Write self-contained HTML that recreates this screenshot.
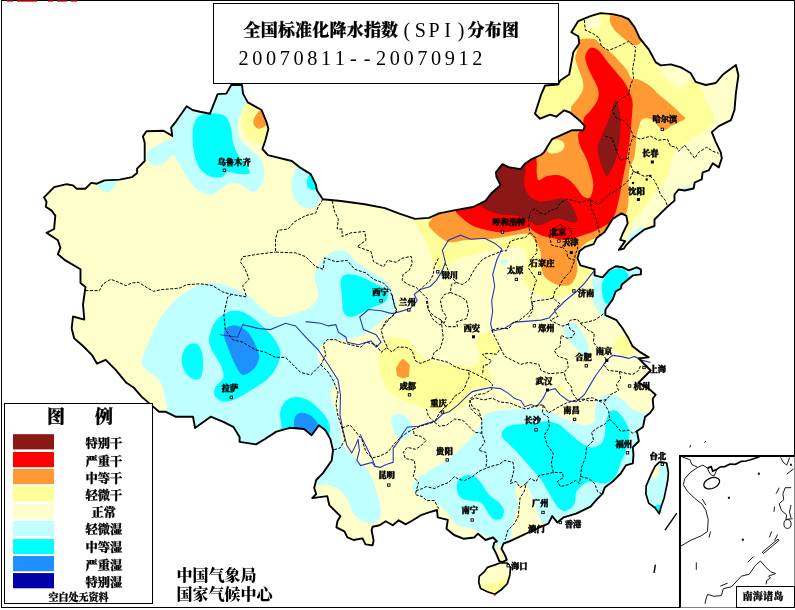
<!DOCTYPE html>
<html lang="zh"><head><meta charset="utf-8"><title>全国标准化降水指数(SPI)分布图</title>
<style>
html,body{margin:0;padding:0;background:#fff;}
body{width:795px;height:610px;overflow:hidden;position:relative;font-family:"Liberation Serif","Noto Serif CJK SC",serif;}
svg{position:absolute;left:0;top:0;}
.t{position:absolute;white-space:nowrap;color:#000;line-height:1;opacity:.999;will-change:opacity;}
.b{font-weight:900;-webkit-text-stroke:0.25px #000;}
</style></head><body>
<svg width="795" height="610" viewBox="0 0 795 610">
<rect width="795" height="610" fill="#fff"/>

<defs><clipPath id="cn"><path d="M44.0 197.3 L54.1 187.2 L66.7 184.2 L73.0 185.4 L76.7 188.7 L85.5 188.7 L91.1 182.9 L96.9 183.7 L104.4 180.4 L119.5 179.6 L132.1 177.1 L137.1 172.9 L137.1 168.6 L144.7 161.0 L144.7 142.7 L142.9 136.4 L146.4 131.3 L163.5 130.8 L172.3 135.9 L171.1 127.6 L176.1 121.3 L186.7 106.2 L192.5 110.0 L200.0 111.7 L210.0 113.7 L217.6 94.1 L226.4 93.6 L231.2 85.0 L242.0 85.0 L243.0 93.6 L247.8 102.4 L261.6 110.0 L266.7 122.5 L268.4 128.8 L265.4 140.2 L262.4 149.0 L267.9 155.2 L291.8 161.0 L299.4 167.1 L310.7 174.1 L315.7 184.2 L317.0 190.5 L322.8 199.3 L340.9 201.0 L364.8 204.3 L384.9 208.1 L400.0 213.9 L415.0 218.9 L429.0 217.9 L439.0 213.4 L454.0 210.4 L473.0 207.0 L485.5 200.8 L491.4 193.3 L500.5 185.2 L496.5 177.2 L496.0 172.1 L502.5 164.1 L508.6 167.1 L520.6 169.1 L524.6 164.1 L531.7 159.1 L540.8 155.0 L544.0 152.3 L547.0 147.3 L552.0 139.2 L561.0 135.2 L572.2 130.2 L583.3 130.2 L584.7 126.2 L580.2 121.0 L570.0 112.5 L564.2 110.3 L556.2 116.7 L550.1 114.7 L540.1 118.7 L535.0 113.7 L541.1 94.6 L545.1 85.5 L558.2 84.5 L560.2 80.5 L569.2 74.5 L573.3 52.3 L579.3 43.3 L578.3 36.2 L571.3 32.2 L578.3 21.1 L590.4 16.1 L600.4 13.1 L612.5 14.1 L621.6 16.1 L628.6 19.1 L634.6 27.2 L639.7 38.2 L648.7 49.3 L655.8 62.4 L660.8 65.4 L670.9 64.4 L680.9 67.4 L690.6 73.0 L695.6 81.8 L705.7 85.0 L715.8 83.0 L723.3 74.2 L735.9 64.9 L738.4 75.5 L735.9 93.1 L734.5 110.0 L730.9 120.1 L718.8 126.1 L711.8 132.1 L715.8 142.2 L720.8 152.3 L721.8 158.3 L718.8 167.4 L712.8 163.3 L708.7 170.4 L702.7 172.4 L701.7 179.4 L694.7 182.5 L693.6 188.5 L684.6 190.5 L678.6 189.5 L674.5 194.5 L674.5 200.6 L667.5 206.6 L660.4 213.6 L654.5 219.5 L654.5 226.0 L644.1 229.7 L632.7 238.5 L626.4 244.8 L623.9 248.6 L618.9 249.9 L625.2 241.1 L620.2 239.8 L622.7 233.5 L627.7 223.4 L626.4 215.9 L621.4 213.4 L612.6 218.9 L604.6 232.1 L596.6 238.1 L593.6 244.2 L584.5 247.2 L579.5 251.2 L577.5 258.3 L580.5 265.3 L588.5 267.7 L594.6 269.3 L594.6 275.4 L602.6 277.4 L608.7 270.3 L615.7 266.3 L622.8 267.3 L628.8 270.3 L636.8 267.3 L640.9 269.3 L640.9 274.4 L632.8 275.4 L626.8 280.4 L621.8 284.4 L620.8 288.5 L615.7 291.5 L612.7 299.5 L606.7 307.6 L605.4 310.1 L605.4 315.2 L616.5 320.2 L622.5 328.2 L628.6 338.3 L632.6 346.3 L640.6 352.4 L648.7 357.4 L638.6 358.4 L644.7 364.5 L650.7 370.5 L644.7 376.5 L638.6 382.6 L648.7 388.6 L655.7 394.7 L652.7 398.7 L653.5 408.0 L650.0 413.0 L645.0 417.0 L643.0 427.0 L636.9 431.2 L638.9 441.3 L632.8 447.3 L633.5 455.0 L632.8 463.4 L625.8 465.4 L620.7 473.5 L612.7 481.5 L604.7 487.6 L602.6 493.6 L596.6 499.6 L590.6 506.7 L576.1 513.6 L563.5 517.4 L557.2 522.4 L552.2 516.1 L548.4 523.7 L539.6 527.4 L528.3 532.5 L520.8 536.2 L509.4 541.3 L503.5 543.5 L501.5 548.7 L504.9 554.9 L506.8 559.9 L502.4 562.2 L499.3 561.2 L496.8 554.9 L493.0 547.4 L494.3 542.5 L496.9 541.3 L493.0 537.5 L485.5 540.0 L478.0 533.7 L474.2 537.5 L464.0 538.8 L454.0 535.0 L446.5 528.7 L447.8 519.9 L437.7 517.4 L437.0 510.0 L429.9 512.2 L420.9 515.2 L412.8 520.3 L405.8 524.3 L398.7 520.3 L392.7 525.3 L385.7 521.3 L379.6 525.3 L372.6 526.7 L371.6 530.3 L373.6 540.4 L372.6 545.4 L365.5 544.4 L362.5 538.4 L353.5 540.0 L347.4 537.4 L344.4 531.3 L336.4 527.3 L337.4 521.3 L340.4 516.2 L329.3 505.2 L327.3 496.1 L312.2 498.1 L316.2 494.0 L314.2 488.0 L316.2 480.0 L322.9 473.1 L331.7 460.5 L333.0 450.4 L330.4 439.1 L325.4 430.3 L319.0 425.3 L311.6 435.3 L304.0 429.0 L290.0 427.8 L276.4 431.6 L265.0 439.0 L256.0 444.4 L239.6 441.9 L239.6 436.9 L233.3 426.8 L223.3 421.8 L210.7 416.7 L195.0 428.0 L193.0 416.7 L175.5 416.7 L165.4 411.7 L159.0 411.7 L154.0 407.4 L141.5 396.6 L134.0 387.8 L126.4 382.8 L115.7 369.9 L105.7 359.8 L96.9 363.6 L91.8 354.8 L83.0 346.0 L74.2 338.4 L71.7 328.4 L73.0 316.5 L84.3 319.6 L83.0 304.5 L85.5 286.9 L80.5 283.1 L80.5 269.3 L65.4 260.4 L57.9 254.2 L60.4 247.9 L57.9 240.3 L46.5 232.8 L54.1 229.0 L55.3 215.6 L51.6 210.6 L45.8 206.8 L46.5 201.8Z"/><path d="M499.9 563.0 L494.9 564.9 L487.4 567.4 L483.7 572.4 L479.3 576.1 L478.7 582.3 L480.6 588.6 L487.4 591.7 L494.9 594.2 L501.2 589.8 L507.4 583.6 L509.9 574.9 L510.5 567.4 L507.4 563.0Z"/><path d="M661.8 462.1 L666.7 463.0 L668.4 472.8 L667.8 480.0 L666.7 485.9 L664.3 497.4 L661.0 507.2 L659.3 513.8 L655.2 508.0 L648.7 503.1 L645.9 494.1 L646.2 485.9 L651.1 474.4 L655.2 466.2 L659.3 462.1Z"/></clipPath></defs>
<g clip-path="url(#cn)">
<rect width="795" height="610" fill="#FFFFCC"/>
<path d="M414.2 221.0 C415.2 224.0 417.8 227.9 420.2 232.1 C422.6 236.3 426.3 241.8 428.3 246.2 C430.3 250.6 431.0 254.6 432.3 258.3 C433.6 262.0 434.7 266.4 436.4 268.4 C438.1 270.4 440.4 270.7 442.4 270.4 C444.4 270.1 446.0 268.1 448.4 266.4 C450.8 264.7 453.5 262.0 456.5 260.3 C459.5 258.6 462.8 257.5 466.5 256.3 C470.2 255.1 474.2 254.5 478.6 253.3 C483.0 252.1 488.7 250.0 492.7 249.2 C496.7 248.3 498.8 248.5 502.8 248.2 C506.8 247.9 513.1 246.8 516.8 247.2 C520.5 247.5 523.2 248.1 524.9 250.3 C526.6 252.5 527.1 256.3 526.9 260.3 C526.7 264.3 524.2 270.4 523.9 274.4 C523.6 278.4 523.8 282.0 524.9 284.5 C526.0 287.0 527.6 287.7 530.2 289.5 C532.8 291.3 536.6 294.2 540.3 295.5 C544.0 296.8 547.9 297.5 552.3 297.5 C556.6 297.5 561.7 297.2 566.4 295.5 C571.1 293.8 576.8 290.1 580.5 287.4 C584.2 284.7 586.4 282.1 588.6 279.4 C590.8 276.7 590.9 274.2 593.6 271.3 C596.3 268.4 603.9 265.6 605.0 262.0 C606.1 258.4 598.8 255.7 600.0 250.0 C601.2 244.3 608.3 230.5 612.0 228.0 C615.7 225.5 619.0 235.0 622.0 235.0 C625.0 235.0 628.6 230.1 630.3 228.0 C632.0 225.9 630.6 225.3 632.3 222.7 C634.0 220.1 637.6 215.9 640.3 212.6 C643.0 209.2 646.0 205.6 648.4 202.6 C650.8 199.6 652.4 197.2 654.4 194.5 C656.4 191.8 658.4 189.2 660.4 186.5 C662.4 183.8 664.8 181.4 666.5 178.4 C668.2 175.4 669.5 172.1 670.5 168.4 C671.5 164.7 671.1 159.7 672.5 156.3 C673.9 152.9 675.6 150.9 678.6 148.2 C681.6 145.5 686.6 142.9 690.6 140.2 C694.6 137.5 699.1 134.8 702.7 132.1 C706.3 129.4 710.2 127.2 712.0 124.0 C713.8 120.8 714.2 117.1 713.2 113.2 C712.2 109.3 707.8 105.2 705.7 100.6 C703.6 96.0 703.2 88.8 700.7 85.5 C698.2 82.2 694.0 80.1 690.6 80.5 C687.2 80.9 684.3 88.0 680.5 88.0 C676.7 88.0 671.8 83.8 668.0 80.5 C664.2 77.2 660.6 72.2 657.9 67.9 C655.2 63.7 655.0 61.3 652.0 55.0 C649.0 48.7 645.3 38.3 640.0 30.0 C634.7 21.7 631.7 8.7 620.0 5.0 C608.3 1.3 580.8 -1.2 570.0 8.0 C559.2 17.2 562.0 46.3 555.0 60.0 C548.0 73.7 533.5 80.0 528.0 90.0 C522.5 100.0 520.3 108.7 522.0 120.0 C523.7 131.3 542.5 151.3 538.0 158.0 C533.5 164.7 503.3 153.0 495.0 160.0 C486.7 167.0 497.2 192.8 488.0 200.0 C478.8 207.2 452.3 200.7 440.0 203.0 C427.7 205.3 418.3 211.0 414.0 214.0 C409.7 217.0 413.2 218.0 414.2 221.0Z" fill="#FFFF99"/>
<path d="M584.0 20.0 C585.0 18.0 589.3 15.3 592.0 15.0 C594.7 14.7 598.5 16.2 600.0 18.0 C601.5 19.8 602.0 24.2 601.0 26.0 C600.0 27.8 596.5 28.8 594.0 29.0 C591.5 29.2 587.7 28.5 586.0 27.0 C584.3 25.5 583.0 22.0 584.0 20.0Z" fill="#FFFFCC"/>
<path d="M429.3 222.1 C426.7 226.6 431.8 229.1 434.3 232.1 C436.8 235.1 441.4 238.5 444.4 240.2 C447.4 241.9 449.0 242.2 452.4 242.2 C455.8 242.2 459.8 240.7 464.5 240.2 C469.2 239.7 475.2 239.5 480.6 239.2 C486.0 238.9 491.3 238.9 496.7 238.2 C502.1 237.5 507.5 235.9 512.8 235.2 C518.0 234.5 524.5 233.1 528.2 234.1 C531.9 235.1 533.2 238.3 535.2 241.2 C537.2 244.0 539.3 246.8 540.3 251.2 C541.3 255.5 540.5 262.9 541.3 267.3 C542.1 271.7 542.8 274.5 545.3 277.4 C547.8 280.2 552.5 283.1 556.4 284.4 C560.2 285.7 565.4 286.2 568.4 285.4 C571.4 284.6 573.0 282.1 574.5 279.4 C576.0 276.7 577.2 272.8 577.5 269.3 C577.8 265.8 576.3 261.3 576.5 258.3 C576.7 255.3 576.9 253.8 578.5 251.2 C580.1 248.6 582.9 245.4 586.0 243.0 C589.1 240.6 593.7 239.0 597.0 237.0 C600.3 235.0 603.3 234.3 606.0 231.0 C608.7 227.7 610.1 219.6 613.0 217.0 C615.9 214.4 621.2 216.4 623.5 215.7 C625.8 215.0 625.6 215.2 626.5 212.7 C627.4 210.2 628.2 205.3 628.6 200.6 C629.0 195.9 628.4 189.9 628.6 184.5 C628.8 179.1 628.6 173.1 629.6 168.4 C630.6 163.7 633.4 161.8 634.6 156.4 C635.8 151.0 635.9 140.9 636.6 136.2 C637.3 131.5 637.6 131.0 638.6 128.2 C639.6 125.3 640.2 120.4 642.6 119.1 C645.0 117.8 649.3 118.2 652.7 120.1 C656.1 121.9 659.4 129.3 662.8 130.2 C666.1 131.0 669.1 127.0 672.8 125.2 C676.5 123.4 683.5 120.9 684.9 119.1 C686.2 117.2 683.2 116.5 680.9 114.1 C678.6 111.7 674.6 107.8 670.9 104.6 C667.2 101.3 662.2 97.6 658.8 94.6 C655.4 91.6 654.1 89.0 650.7 86.5 C647.4 84.0 641.9 80.8 638.7 79.5 C635.5 78.2 633.6 80.2 631.6 78.5 C629.6 76.8 628.8 72.4 626.6 69.4 C624.4 66.4 621.3 63.2 618.6 60.4 C615.9 57.5 613.2 54.6 610.5 52.3 C607.8 49.9 605.1 48.5 602.4 46.3 C599.7 44.1 597.8 40.2 594.4 39.0 C591.0 37.8 585.4 38.7 582.3 39.0 C579.2 39.3 576.8 39.3 576.0 41.0 C575.2 42.7 577.4 46.4 577.3 49.3 C577.2 52.2 575.1 55.2 575.3 58.4 C575.5 61.6 577.1 64.7 578.3 68.4 C579.5 72.1 582.0 76.8 582.7 80.5 C583.4 84.2 583.8 87.2 582.7 90.6 C581.6 93.9 578.2 97.9 576.3 100.6 C574.4 103.3 572.3 104.7 571.3 106.7 C570.3 108.7 572.2 109.7 570.3 112.7 C568.4 115.8 565.0 120.5 560.0 125.0 C555.0 129.6 546.7 134.5 540.0 140.0 C533.3 145.5 528.3 152.7 520.0 158.0 C511.7 163.3 496.7 165.3 490.0 172.0 C483.3 178.7 486.7 192.5 480.0 198.0 C473.3 203.5 458.4 201.0 450.0 205.0 C441.6 209.0 431.9 217.6 429.3 222.1Z" fill="#FF9933"/>
<path d="M610.0 18.0 C610.3 16.0 609.3 11.3 612.0 10.0 C614.7 8.7 622.0 7.3 626.0 10.0 C630.0 12.7 633.3 21.0 636.0 26.0 C638.7 31.0 642.2 36.8 642.0 40.0 C641.8 43.2 637.5 45.5 634.6 45.3 C631.7 45.1 628.0 41.5 624.6 39.0 C621.2 36.5 616.9 32.8 614.5 30.0 C612.1 27.2 610.8 24.0 610.0 22.0 C609.2 20.0 609.7 20.0 610.0 18.0Z" fill="#FF9933"/>
<path d="M547.5 148.0 C547.8 146.3 548.6 143.4 550.0 142.0 C551.4 140.6 554.0 139.7 556.0 139.5 C558.0 139.3 560.6 139.9 562.0 141.0 C563.4 142.1 564.7 144.2 564.5 146.0 C564.3 147.8 562.9 150.2 561.0 151.5 C559.1 152.8 555.2 153.4 553.0 153.5 C550.8 153.6 548.9 152.9 548.0 152.0 C547.1 151.1 547.2 149.7 547.5 148.0Z" fill="#FFFF99"/>
<path d="M454.2 209.4 C455.2 211.5 457.3 213.7 460.3 216.4 C463.3 219.1 468.3 223.3 472.3 225.5 C476.3 227.7 479.7 228.3 484.4 229.5 C489.1 230.7 495.1 232.3 500.5 232.5 C505.9 232.7 511.9 231.3 516.6 230.5 C521.3 229.7 526.1 227.6 528.7 227.5 C531.3 227.4 530.1 228.8 532.0 230.0 C533.9 231.2 536.9 233.7 540.3 235.0 C543.7 236.3 547.9 237.2 552.3 238.0 C556.6 238.8 561.7 240.3 566.4 240.0 C571.1 239.7 576.1 237.3 580.5 236.0 C584.9 234.7 588.9 233.5 592.6 232.0 C596.3 230.5 599.6 228.7 602.6 227.0 C605.6 225.3 608.2 224.4 610.4 222.0 C612.5 219.6 614.0 216.9 615.5 212.7 C617.0 208.5 618.3 202.0 619.5 196.6 C620.7 191.2 621.3 186.5 622.5 180.5 C623.7 174.5 625.3 167.1 626.5 160.4 C627.7 153.7 628.8 146.9 629.6 140.2 C630.5 133.5 631.1 126.3 631.6 120.0 C632.1 113.7 632.9 107.2 632.6 102.6 C632.3 98.0 630.9 95.9 629.6 92.6 C628.3 89.2 626.8 85.8 624.6 82.5 C622.4 79.2 619.5 76.2 616.5 72.5 C613.5 68.8 609.5 64.1 606.5 60.4 C603.5 56.7 601.1 52.4 598.4 50.3 C595.7 48.2 592.6 46.9 590.4 47.9 C588.2 48.9 585.6 53.0 585.3 56.4 C585.0 59.8 586.9 64.4 588.4 68.4 C589.9 72.4 592.7 76.8 594.4 80.5 C596.1 84.2 597.9 87.2 598.4 90.6 C598.9 93.9 598.7 97.2 597.4 100.6 C596.1 103.9 592.6 107.8 590.4 110.7 C588.2 113.6 585.2 115.1 584.0 118.0 C582.8 120.9 584.0 125.3 583.0 128.0 C582.0 130.7 578.7 131.1 578.2 134.2 C577.7 137.2 578.9 142.3 580.2 146.3 C581.6 150.3 584.6 154.4 586.3 158.4 C588.0 162.4 589.1 166.1 590.3 170.4 C591.5 174.8 593.3 180.1 593.3 184.5 C593.3 188.9 592.0 195.0 590.3 197.0 C588.6 199.0 585.5 198.0 583.3 196.6 C581.1 195.2 579.3 191.2 577.0 188.5 C574.7 185.8 572.5 182.5 569.5 180.3 C566.5 178.1 562.7 175.9 558.9 175.2 C555.1 174.5 550.2 175.4 546.8 176.2 C543.4 177.0 540.4 180.9 538.7 180.2 C537.0 179.5 537.0 175.1 536.7 172.1 C536.4 169.1 537.2 164.9 536.7 162.1 C536.2 159.2 537.1 155.7 534.0 155.0 C530.9 154.3 524.5 156.3 518.0 158.0 C511.5 159.7 500.5 158.8 495.0 165.0 C489.5 171.2 491.8 188.5 485.0 195.0 C478.2 201.5 459.1 201.6 454.0 204.0 C448.9 206.4 453.1 207.3 454.2 209.4Z" fill="#FF0000"/>
<path d="M480.4 204.3 C480.6 207.0 483.1 207.8 486.4 209.4 C489.7 211.1 496.2 213.3 500.0 214.2 C503.8 215.1 505.8 214.5 509.1 214.9 C512.4 215.3 516.2 215.4 519.6 216.4 C523.0 217.4 526.6 219.5 529.4 220.9 C532.2 222.3 533.8 224.2 536.2 224.7 C538.6 225.2 541.3 224.8 543.8 224.0 C546.3 223.2 548.8 221.1 551.3 220.2 C553.8 219.3 556.4 218.6 558.9 218.7 C561.4 218.8 563.9 220.3 566.4 220.9 C568.9 221.5 572.1 222.8 574.0 222.5 C575.9 222.2 577.5 220.9 577.7 219.4 C578.0 217.9 576.5 215.7 575.5 213.4 C574.5 211.1 573.2 208.1 571.7 205.8 C570.2 203.5 568.3 201.1 566.4 199.8 C564.5 198.6 563.2 198.2 560.4 198.3 C557.6 198.4 553.3 200.1 549.8 200.6 C546.3 201.1 542.5 201.9 539.2 201.3 C535.9 200.7 532.6 199.1 530.2 196.8 C527.8 194.5 525.9 191.0 524.9 187.7 C523.9 184.4 524.2 180.7 524.2 177.2 C524.2 173.7 527.3 169.8 524.9 166.6 C522.5 163.4 515.0 158.6 510.0 158.0 C505.0 157.4 499.2 157.2 495.0 163.0 C490.8 168.8 487.4 186.1 485.0 193.0 C482.6 199.9 480.2 201.6 480.4 204.3Z" fill="#8B1717"/>
<path d="M614.5 102.0 C613.3 104.8 611.4 112.7 609.4 118.1 C607.4 123.5 604.4 129.2 602.4 134.2 C600.4 139.2 597.7 143.6 597.4 148.3 C597.1 153.0 599.1 158.0 600.4 162.4 C601.7 166.8 604.2 172.3 605.4 174.5 C606.6 176.7 606.7 176.0 607.5 175.5 C608.3 175.0 609.1 173.9 610.4 171.4 C611.7 168.9 614.1 164.6 615.5 160.4 C616.9 156.2 617.7 151.3 618.5 146.3 C619.3 141.3 620.3 135.9 620.5 130.2 C620.7 124.5 620.2 116.8 619.5 112.0 C618.8 107.2 617.3 103.3 616.5 101.6 C615.7 99.9 615.7 99.2 614.5 102.0Z" fill="#8B1717"/>
<path d="M173.6 136.4 C171.3 139.6 155.4 145.2 151.0 149.0 C146.6 152.8 146.2 156.3 147.0 159.0 C147.8 161.7 152.8 164.9 156.0 165.3 C159.2 165.7 163.1 163.2 166.0 161.5 C168.9 159.8 170.7 153.5 173.6 155.2 C176.5 156.9 180.2 166.3 183.6 171.6 C186.9 176.8 191.0 183.5 193.7 186.7 C196.4 189.8 196.8 189.2 200.0 190.5 C203.2 191.8 208.0 195.2 212.6 194.2 C217.2 193.1 223.1 185.9 227.7 184.2 C232.3 182.5 236.1 182.9 240.3 184.2 C244.5 185.4 249.2 191.7 252.8 191.7 C256.4 191.7 259.7 187.5 261.6 184.2 C263.5 180.8 264.4 175.8 264.2 171.6 C264.0 167.4 262.7 162.8 260.4 159.0 C258.1 155.2 253.7 152.3 250.3 149.0 C247.0 145.7 242.4 142.7 240.3 138.9 C238.2 135.1 237.3 131.3 237.7 126.3 C238.1 121.3 240.8 113.4 242.8 108.7 C244.9 104.0 249.6 103.1 250.0 98.0 C250.4 92.9 249.2 81.3 245.0 78.0 C240.8 74.7 232.5 74.3 225.0 78.0 C217.5 81.7 209.2 95.0 200.0 100.0 C190.8 105.0 175.8 103.0 170.0 108.0 C164.2 113.0 164.4 125.3 165.0 130.0 C165.6 134.7 175.9 133.2 173.6 136.4Z" fill="#BFFFFF"/>
<path d="M193.0 128.0 C193.8 123.3 195.2 119.4 198.0 117.0 C200.8 114.6 205.5 113.7 210.0 113.5 C214.5 113.3 221.5 113.6 225.0 116.0 C228.5 118.4 229.7 123.7 231.0 128.0 C232.3 132.3 231.8 137.5 233.0 142.0 C234.2 146.5 235.8 151.2 238.0 155.0 C240.2 158.8 244.0 162.0 246.0 165.0 C248.0 168.0 251.0 171.5 250.0 173.0 C249.0 174.5 243.7 174.2 240.0 174.0 C236.3 173.8 231.0 171.5 228.0 172.0 C225.0 172.5 224.7 176.2 222.0 177.0 C219.3 177.8 215.3 178.0 212.0 177.0 C208.7 176.0 204.7 173.8 202.0 171.0 C199.3 168.2 197.5 164.3 196.0 160.0 C194.5 155.7 193.5 150.3 193.0 145.0 C192.5 139.7 192.2 132.7 193.0 128.0Z" fill="#00FFFF"/>
<path d="M96.9 184.0 C97.3 185.9 100.9 189.2 103.0 190.5 C105.1 191.8 107.3 192.8 109.4 191.7 C111.5 190.6 114.4 186.5 115.7 184.2 C117.0 181.9 119.5 178.9 117.0 178.0 C114.5 177.1 103.9 178.0 100.6 179.0 C97.2 180.0 96.5 182.1 96.9 184.0Z" fill="#BFFFFF"/>
<path d="M246.5 103.7 C244.1 106.8 241.9 111.7 241.5 116.3 C241.1 120.9 242.5 127.3 244.0 131.3 C245.5 135.3 247.6 138.1 250.3 140.2 C253.0 142.3 256.8 143.9 260.4 143.9 C264.0 143.9 269.4 144.8 272.0 140.0 C274.6 135.2 278.7 122.0 276.0 115.0 C273.3 108.0 260.9 99.9 256.0 98.0 C251.1 96.1 248.9 100.7 246.5 103.7Z" fill="#FFFF99"/>
<path d="M259.0 111.2 C257.0 113.2 254.8 116.5 254.0 118.8 C253.2 121.1 253.2 123.3 254.0 125.0 C254.8 126.7 256.9 128.8 259.0 128.8 C261.1 128.8 264.4 126.5 266.7 125.0 C269.0 123.5 273.1 123.0 273.0 120.0 C272.9 117.0 268.3 108.5 266.0 107.0 C263.7 105.5 261.0 109.2 259.0 111.2Z" fill="#FF9933"/>
<path d="M296.9 166.6 C294.7 168.9 293.9 172.8 293.0 176.6 C292.1 180.4 291.2 185.0 291.8 189.2 C292.4 193.4 294.6 198.7 296.9 201.8 C299.2 204.9 302.6 207.2 305.7 208.0 C308.8 208.8 313.4 208.1 315.7 206.8 C318.0 205.6 317.1 202.5 319.5 200.5 C321.9 198.5 329.6 199.2 330.0 195.0 C330.4 190.8 326.0 180.3 322.0 175.0 C318.0 169.7 310.2 164.4 306.0 163.0 C301.8 161.6 299.1 164.3 296.9 166.6Z" fill="#BFFFFF"/>
<path d="M308.7 175.4 C307.2 177.4 306.7 181.8 307.0 184.2 C307.3 186.6 309.4 188.7 310.7 189.7 C312.0 190.7 313.3 190.3 315.0 190.0 C316.7 189.7 320.8 191.0 321.0 188.0 C321.2 185.0 318.1 174.1 316.0 172.0 C313.9 169.9 310.2 173.4 308.7 175.4Z" fill="#00FFFF"/>
<path d="M200.0 284.5 C193.5 287.2 182.5 294.0 176.0 299.4 C169.5 304.8 165.2 310.7 161.0 317.0 C156.8 323.3 154.2 329.8 151.0 337.0 C147.8 344.2 142.8 354.5 142.0 360.0 C141.2 365.5 143.7 366.7 146.5 370.0 C149.3 373.3 156.1 376.2 159.0 380.0 C161.9 383.8 162.8 387.8 164.0 393.0 C165.2 398.2 168.3 404.8 166.0 411.0 C163.7 417.2 145.2 425.2 150.0 430.0 C154.8 434.8 180.0 435.8 195.0 440.0 C210.0 444.2 222.5 453.3 240.0 455.0 C257.5 456.7 286.7 452.5 300.0 450.0 C313.3 447.5 314.5 439.7 320.0 440.0 C325.5 440.3 333.7 444.8 333.0 452.0 C332.3 459.2 316.8 477.6 316.0 483.0 C315.2 488.4 323.9 483.1 328.0 484.4 C332.1 485.7 337.2 488.0 340.5 490.7 C343.8 493.4 345.5 496.6 348.0 500.8 C350.5 505.0 351.8 512.0 355.6 515.8 C359.4 519.6 366.5 523.4 370.7 523.4 C374.9 523.4 379.6 520.0 380.8 515.8 C382.1 511.6 379.9 504.9 378.2 498.2 C376.5 491.5 373.6 481.5 370.7 475.6 C367.8 469.7 365.2 468.0 360.6 463.0 C356.0 458.0 346.4 450.8 343.0 445.4 C339.6 439.9 341.8 436.2 340.5 430.3 C339.2 424.4 337.2 415.9 335.5 410.0 C333.8 404.1 330.3 399.7 330.4 395.0 C330.4 390.3 336.1 386.2 335.8 382.0 C335.5 377.8 331.2 373.6 328.3 369.9 C325.4 366.2 319.4 363.6 318.2 359.8 C316.9 356.0 318.7 350.6 320.8 347.2 C322.9 343.8 327.5 340.9 330.8 339.7 C334.1 338.4 336.7 340.1 340.9 339.7 C345.1 339.3 351.0 338.9 356.0 337.2 C361.0 335.5 366.0 333.0 371.0 329.6 C376.0 326.2 382.0 320.4 386.2 317.0 C390.4 313.6 394.9 313.3 396.2 309.5 C397.4 305.7 395.4 299.0 393.7 294.4 C392.0 289.8 390.0 285.6 386.2 281.8 C382.4 278.0 376.0 275.2 371.0 271.8 C366.0 268.4 360.2 265.1 356.0 261.7 C351.8 258.3 349.7 253.3 345.9 251.6 C342.1 249.9 337.5 249.9 333.3 251.6 C329.1 253.3 323.9 257.5 320.8 261.7 C317.7 265.9 314.9 271.4 314.5 276.8 C314.1 282.2 318.8 289.4 318.2 294.4 C317.6 299.4 314.5 303.9 310.7 307.0 C306.9 310.1 301.1 311.6 295.6 313.3 C290.2 315.0 283.4 317.6 278.0 317.0 C272.6 316.4 267.6 312.8 263.0 309.5 C258.4 306.2 255.8 300.8 250.3 297.0 C244.8 293.2 235.9 289.3 230.0 287.0 C224.1 284.7 220.0 283.4 215.0 283.0 C210.0 282.6 206.5 281.8 200.0 284.5Z" fill="#BFFFFF"/>
<path d="M183.0 352.6 C184.0 349.7 185.7 346.5 188.0 345.0 C190.3 343.5 194.6 342.5 196.9 343.8 C199.2 345.1 200.9 349.0 201.9 352.6 C202.9 356.2 203.3 361.0 203.1 365.2 C202.9 369.4 202.3 375.4 200.6 377.7 C198.9 380.0 195.6 379.8 193.1 379.0 C190.6 378.2 187.4 375.4 185.5 372.7 C183.6 370.0 182.2 366.0 181.8 362.6 C181.4 359.2 182.0 355.5 183.0 352.6Z" fill="#00FFFF"/>
<path d="M210.0 334.7 C211.0 331.4 212.1 325.8 215.0 322.0 C217.9 318.2 223.1 313.7 227.7 312.0 C232.3 310.3 237.8 310.3 242.8 312.0 C247.8 313.7 252.9 317.8 257.9 322.0 C262.9 326.2 269.2 332.1 273.0 337.2 C276.8 342.2 280.0 347.2 280.5 352.3 C281.0 357.4 278.5 363.0 276.1 367.7 C273.7 372.4 270.2 376.5 266.0 380.3 C261.8 384.1 256.0 387.2 251.0 390.3 C246.0 393.4 240.4 397.2 235.8 399.1 C231.2 401.0 226.9 402.2 223.3 401.6 C219.8 401.0 215.8 397.8 214.5 395.3 C213.2 392.8 214.2 389.4 215.7 386.5 C217.2 383.6 222.5 381.2 223.3 377.7 C224.2 374.1 222.5 369.4 220.8 365.2 C219.1 361.0 215.2 356.5 213.2 352.6 C211.2 348.7 209.5 345.0 209.0 342.0 C208.5 339.0 209.0 338.0 210.0 334.7Z" fill="#00FFFF"/>
<path d="M223.9 334.7 C223.7 330.9 225.4 328.6 227.7 327.1 C230.0 325.6 234.3 325.1 237.7 325.9 C241.0 326.7 244.9 329.0 247.8 332.1 C250.7 335.2 253.4 340.5 255.3 344.7 C257.2 348.9 259.3 353.3 259.1 357.3 C258.9 361.3 256.8 365.7 254.1 368.6 C251.4 371.5 246.0 375.5 242.8 374.9 C239.7 374.3 237.5 369.0 235.2 364.8 C232.9 360.6 230.8 354.8 228.9 349.8 C227.0 344.8 224.1 338.5 223.9 334.7Z" fill="#1E90FF"/>
<path d="M281.4 426.0 C281.4 421.4 279.4 416.8 280.0 412.7 C280.6 408.6 282.7 404.0 285.2 401.4 C287.7 398.8 291.4 397.2 295.2 397.0 C299.0 396.8 303.8 398.0 307.8 400.0 C311.8 402.0 315.9 406.0 319.0 409.0 C322.1 412.0 324.7 414.7 326.5 418.0 C328.3 421.3 330.2 425.3 330.0 429.0 C329.8 432.7 330.0 437.3 325.0 440.0 C320.0 442.7 307.5 445.0 300.0 445.0 C292.5 445.0 283.1 443.2 280.0 440.0 C276.9 436.8 281.4 430.6 281.4 426.0Z" fill="#00FFFF"/>
<path d="M294.0 426.0 C293.9 422.8 293.9 418.7 295.2 416.5 C296.4 414.3 299.0 412.9 301.5 412.7 C304.0 412.5 307.8 413.7 310.3 415.2 C312.8 416.7 315.3 419.4 316.6 421.5 C317.9 423.6 318.8 424.9 318.0 428.0 C317.2 431.1 315.7 438.7 312.0 440.0 C308.3 441.3 299.0 438.3 296.0 436.0 C293.0 433.7 294.1 429.2 294.0 426.0Z" fill="#1E90FF"/>
<path d="M340.9 279.3 C341.9 275.5 345.0 274.7 348.4 274.3 C351.8 273.9 356.4 275.1 361.0 276.8 C365.6 278.5 371.7 281.8 376.1 284.3 C380.5 286.8 385.9 288.9 387.4 291.9 C388.9 294.8 387.2 299.5 384.9 302.0 C382.6 304.5 377.6 305.1 373.6 307.0 C369.6 308.9 364.8 311.6 361.0 313.3 C357.2 315.0 353.8 317.2 350.9 317.0 C348.0 316.8 344.9 315.4 343.4 312.0 C341.9 308.6 342.5 302.3 342.1 296.9 C341.7 291.4 339.8 283.1 340.9 279.3Z" fill="#00FFFF"/>
<path d="M392.0 417.7 C393.3 415.0 397.7 413.1 400.9 414.0 C404.1 414.9 409.3 419.5 411.0 422.8 C412.7 426.1 412.7 431.3 411.0 434.0 C409.3 436.7 403.8 439.6 400.9 439.0 C397.9 438.4 394.8 433.9 393.3 430.3 C391.8 426.8 390.7 420.4 392.0 417.7Z" fill="#BFFFFF"/>
<path d="M378.6 365.0 C378.1 358.2 379.8 349.7 382.0 345.0 C384.2 340.3 389.0 338.1 392.0 337.0 C395.0 335.9 397.3 337.7 400.0 338.2 C402.7 338.7 405.3 338.2 408.0 340.2 C410.7 342.2 413.1 347.3 416.1 350.3 C419.1 353.3 422.2 356.4 426.2 358.4 C430.2 360.4 435.3 361.4 440.3 362.4 C445.3 363.4 451.4 363.7 456.4 364.4 C461.4 365.1 466.9 366.7 470.4 366.4 C473.9 366.1 476.0 364.4 477.5 362.4 C479.0 360.4 479.7 357.0 479.5 354.3 C479.3 351.6 476.8 349.0 476.5 346.3 C476.2 343.6 476.2 340.6 477.5 338.2 C478.8 335.8 482.0 332.7 484.5 332.2 C487.0 331.7 490.2 332.8 492.6 335.2 C495.0 337.6 497.9 343.1 498.6 346.3 C499.3 349.5 498.6 351.6 496.6 354.3 C494.6 357.0 487.8 360.0 486.5 362.4 C485.2 364.8 487.6 365.4 488.6 368.4 C489.6 371.4 492.6 377.5 492.6 380.5 C492.6 383.5 490.6 385.1 488.6 386.5 C486.6 387.9 483.2 387.9 480.5 388.6 C477.8 389.3 474.4 389.3 472.4 390.6 C470.4 391.9 469.7 394.3 468.4 396.6 C467.1 398.9 466.4 402.2 464.4 404.6 C462.4 407.0 459.8 409.4 456.4 410.7 C453.0 412.0 448.3 412.7 444.3 412.7 C440.3 412.7 436.2 411.7 432.2 410.7 C428.2 409.7 424.1 408.0 420.1 406.7 C416.1 405.4 412.2 404.4 408.0 402.6 C403.8 400.8 398.8 398.8 395.0 396.0 C391.2 393.2 387.7 391.2 385.0 386.0 C382.3 380.8 379.1 371.8 378.6 365.0Z" fill="#FFFF99"/>
<path d="M396.0 368.0 L400.0 361.5 L403.0 358.4 L409.7 364.4 L409.1 376.5 L403.0 378.5 L397.0 376.0Z" fill="#FF9933"/>
<path d="M413.3 490.6 C412.1 488.6 412.1 486.9 413.3 484.5 C414.5 482.1 417.2 479.2 420.4 476.5 C423.6 473.8 428.4 470.8 432.4 468.4 C436.4 466.0 440.8 464.8 444.5 462.4 C448.2 460.0 451.2 457.3 454.6 454.3 C458.0 451.3 461.6 447.3 464.6 444.3 C467.6 441.3 470.4 438.9 472.7 436.2 C475.0 433.5 477.0 431.2 478.7 428.2 C480.4 425.2 480.8 420.8 482.8 418.1 C484.8 415.4 487.1 413.4 490.8 412.1 C494.5 410.8 500.0 410.6 504.9 410.1 C509.8 409.6 514.2 409.3 520.1 409.1 C526.0 408.9 534.9 408.4 540.3 409.1 C545.7 409.8 548.9 411.8 552.3 413.1 C555.6 414.4 556.4 415.4 560.4 417.1 C564.4 418.8 572.1 421.9 576.5 423.2 C580.9 424.5 583.5 425.5 586.5 425.2 C589.5 424.9 593.3 423.4 594.6 421.2 C595.9 419.0 594.0 415.3 594.5 412.0 C595.0 408.7 595.8 404.2 597.6 401.4 C599.4 398.6 602.3 396.2 605.2 395.1 C608.1 394.1 612.3 394.3 615.2 395.1 C618.1 395.9 620.3 398.0 622.8 400.1 C625.3 402.2 627.8 405.8 630.3 407.7 C632.8 409.6 635.4 410.5 637.9 411.4 C640.4 412.3 640.9 413.0 645.4 413.3 C649.9 413.6 661.2 401.9 665.0 413.0 C668.8 424.1 675.5 463.5 668.0 480.0 C660.5 496.5 638.0 502.5 620.0 512.0 C602.0 521.5 576.3 531.2 560.0 537.0 C543.7 542.8 530.3 542.9 522.0 547.0 C513.7 551.1 514.0 559.1 510.0 561.5 C506.0 563.9 501.3 565.1 498.0 561.5 C494.7 557.9 493.8 545.2 490.0 540.0 C486.2 534.8 480.9 532.5 475.5 530.0 C470.1 527.5 462.5 527.7 457.9 525.0 C453.3 522.3 451.6 517.7 448.0 514.0 C444.4 510.3 439.8 504.8 436.5 502.6 C433.2 500.4 431.1 501.6 428.4 500.6 C425.7 499.6 422.9 498.3 420.4 496.6 C417.9 494.9 414.5 492.6 413.3 490.6Z" fill="#BFFFFF"/>
<path d="M515.7 487.2 C517.4 485.5 522.9 482.6 525.8 484.7 C528.7 486.8 531.0 494.4 533.3 499.8 C535.6 505.2 537.6 512.4 539.6 517.4 C541.6 522.4 549.4 526.2 545.0 530.0 C540.6 533.8 518.7 540.0 513.2 540.0 C507.7 540.0 511.8 533.8 512.0 530.0 C512.2 526.2 513.5 521.6 514.5 517.4 C515.5 513.2 518.0 508.6 518.2 504.8 C518.4 501.0 516.1 497.6 515.7 494.7 C515.3 491.8 514.0 488.9 515.7 487.2Z" fill="#FFFFCC"/>
<path d="M496.5 546.5 C496.8 543.9 499.4 543.6 501.0 546.0 C502.6 548.4 506.3 558.4 506.0 561.0 C505.7 563.6 500.6 563.9 499.0 561.5 C497.4 559.1 496.2 549.1 496.5 546.5Z" fill="#FFFFCC"/>
<path d="M502.0 432.2 C502.8 430.2 505.0 427.5 508.0 426.2 C511.0 424.9 515.7 424.7 520.1 424.2 C524.5 423.7 529.8 423.7 534.2 423.2 C538.6 422.7 542.3 421.0 546.3 421.2 C550.3 421.4 554.7 422.4 558.4 424.2 C562.1 426.0 564.7 429.2 568.4 432.2 C572.1 435.2 576.8 439.8 580.5 442.3 C584.2 444.8 587.2 447.0 590.6 447.3 C594.0 447.6 598.2 446.3 600.6 444.3 C603.0 442.3 603.9 438.8 604.7 435.3 C605.6 431.8 604.9 427.1 605.7 423.2 C606.5 419.3 607.9 414.1 609.7 412.1 C611.5 410.1 614.4 409.9 616.7 411.1 C619.1 412.3 621.8 416.2 623.8 419.2 C625.8 422.2 628.0 425.5 628.8 429.2 C629.6 432.9 629.5 437.3 628.8 441.3 C628.1 445.3 626.3 449.4 624.8 453.4 C623.3 457.4 621.4 461.4 619.7 465.4 C618.0 469.4 617.2 474.5 614.7 477.5 C612.2 480.5 608.4 482.8 604.7 483.5 C601.0 484.2 596.0 481.5 592.6 481.5 C589.2 481.5 587.2 481.8 584.5 483.5 C581.8 485.2 578.2 488.2 576.5 491.6 C574.8 495.0 576.2 500.5 574.5 503.7 C572.8 506.9 569.1 510.0 566.4 510.7 C563.7 511.4 561.1 510.2 558.4 507.7 C555.7 505.2 553.0 500.0 550.3 495.6 C547.6 491.2 545.3 485.9 542.3 481.5 C539.3 477.1 535.9 473.9 532.2 469.5 C528.5 465.1 523.8 459.4 520.1 455.4 C516.4 451.4 513.0 448.1 510.1 445.3 C507.2 442.5 504.4 440.5 503.0 438.3 C501.6 436.1 501.2 434.2 502.0 432.2Z" fill="#00FFFF"/>
<path d="M456.6 484.5 C457.1 481.1 459.9 478.0 462.6 476.5 C465.3 475.0 469.7 474.5 472.7 475.5 C475.7 476.5 478.1 479.3 480.8 482.5 C483.5 485.7 485.8 491.2 488.8 494.6 C491.8 498.0 496.4 499.9 498.9 502.6 C501.4 505.3 503.6 508.0 503.9 510.7 C504.2 513.4 502.8 517.4 500.9 518.7 C499.0 520.0 495.1 520.0 492.8 518.7 C490.5 517.4 488.8 513.4 486.8 510.7 C484.8 508.0 483.8 504.3 480.8 502.6 C477.8 500.9 472.2 501.6 468.7 500.6 C465.2 499.6 461.6 499.3 459.6 496.6 C457.6 493.9 456.1 487.9 456.6 484.5Z" fill="#00FFFF"/>
<path d="M640.0 455.0 L675.0 455.0 L675.0 520.0 L640.0 520.0Z" fill="#BFFFFF"/>
<path d="M650.0 476.0 C649.8 474.0 652.5 469.0 654.0 467.0 C655.5 465.0 658.1 463.5 659.0 464.0 C659.9 464.5 660.2 467.5 659.5 470.0 C658.8 472.5 656.6 478.0 655.0 479.0 C653.4 480.0 650.2 478.0 650.0 476.0Z" fill="#FFFFCC"/>
<path d="M655.0 506.0 C655.9 505.2 660.7 503.5 661.5 505.0 C662.3 506.5 660.9 514.2 660.0 515.0 C659.1 515.8 656.8 511.5 656.0 510.0 C655.2 508.5 654.1 506.8 655.0 506.0Z" fill="#00FFFF"/>
<path d="M476.0 586.0 C478.0 584.6 486.0 584.4 490.0 583.5 C494.0 582.6 496.3 581.7 500.0 580.5 C503.7 579.3 510.0 574.6 512.0 576.5 C514.0 578.4 514.8 588.4 512.0 592.0 C509.2 595.6 500.7 598.0 495.0 598.0 C489.3 598.0 481.2 594.0 478.0 592.0 C474.8 590.0 474.0 587.4 476.0 586.0Z" fill="#FFFF99"/>
<path d="M592.6 281.4 C592.9 278.7 592.0 273.6 594.6 271.0 C597.2 268.4 602.9 267.2 608.0 266.0 C613.1 264.8 619.3 264.0 625.0 264.0 C630.7 264.0 638.5 261.7 642.0 266.0 C645.5 270.3 649.3 282.7 646.0 290.0 C642.7 297.3 627.7 305.3 622.0 310.0 C616.3 314.7 615.0 316.8 612.0 318.0 C609.0 319.2 606.3 318.2 604.0 317.0 C601.7 315.8 599.8 313.3 598.0 311.0 C596.2 308.7 594.6 305.8 593.5 303.0 C592.4 300.2 591.8 296.6 591.6 294.0 C591.5 291.4 592.4 289.5 592.6 287.4 C592.8 285.3 592.3 284.1 592.6 281.4Z" fill="#BFFFFF"/>
<path d="M608.7 271.4 C611.4 269.9 617.5 268.0 620.7 268.3 C623.9 268.6 626.2 270.6 627.8 273.4 C629.3 276.2 631.3 280.6 630.0 285.0 C628.7 289.4 623.9 296.9 620.0 300.0 C616.1 303.1 609.6 304.4 606.7 303.6 C603.8 302.9 603.5 298.5 602.6 295.5 C601.8 292.5 601.3 288.4 601.6 285.4 C601.9 282.4 603.4 279.7 604.6 277.4 C605.8 275.1 606.0 272.9 608.7 271.4Z" fill="#00FFFF"/>
<path d="M563.1 328.2 C563.3 326.0 565.0 323.9 567.2 323.2 C569.4 322.5 573.5 322.3 576.2 324.2 C578.9 326.1 581.3 330.6 583.3 334.3 C585.3 338.0 587.6 343.0 588.3 346.4 C589.0 349.8 588.6 353.4 587.3 354.4 C586.0 355.4 582.8 354.1 580.3 352.4 C577.8 350.7 574.6 347.0 572.2 344.3 C569.9 341.6 567.7 339.0 566.2 336.3 C564.7 333.6 562.9 330.4 563.1 328.2Z" fill="#BFFFFF"/>
<path d="M614.5 344.3 C615.0 342.3 616.5 338.8 618.5 337.3 C620.5 335.8 624.3 334.1 626.5 335.3 C628.7 336.5 630.0 341.9 631.6 344.3 C633.2 346.8 636.5 348.0 636.0 350.0 C635.5 352.0 631.2 355.7 628.6 356.4 C626.0 357.1 622.7 355.6 620.5 354.4 C618.3 353.2 616.5 351.1 615.5 349.4 C614.5 347.7 614.0 346.3 614.5 344.3Z" fill="#FFFF99"/>
<path d="M556.0 389.0 C556.2 387.9 557.8 386.7 559.0 386.5 C560.2 386.3 562.8 387.1 563.5 388.0 C564.2 388.9 563.9 391.2 563.0 392.0 C562.1 392.8 559.2 393.5 558.0 393.0 C556.8 392.5 555.8 390.1 556.0 389.0Z" fill="#FFFF99"/>
<path d="M500.8 261.0 C501.1 260.3 502.8 259.4 504.0 259.3 C505.2 259.2 507.3 259.8 507.8 260.5 C508.3 261.2 508.0 262.8 507.0 263.3 C506.0 263.8 503.0 263.9 502.0 263.5 C501.0 263.1 500.5 261.7 500.8 261.0Z" fill="#BFFFFF"/>
<path d="M628.0 238.0 C628.7 236.0 631.8 232.8 634.0 231.0 C636.2 229.2 639.0 227.2 641.0 227.0 C643.0 226.8 646.5 228.2 646.0 230.0 C645.5 231.8 640.7 235.8 638.0 238.0 C635.3 240.2 631.7 243.0 630.0 243.0 C628.3 243.0 627.3 240.0 628.0 238.0Z" fill="#BFFFFF"/>
<path d="M679.0 193.0 C679.3 191.3 681.8 188.0 684.0 187.0 C686.2 186.0 690.3 185.8 692.0 187.0 C693.7 188.2 695.7 192.3 694.0 194.0 C692.3 195.7 684.5 197.2 682.0 197.0 C679.5 196.8 678.7 194.7 679.0 193.0Z" fill="#BFFFFF"/>
</g>
<path d="M305.7 321.6 L320.8 323.3 L328.3 325.9 L335.8 324.6 L338.4 332.1 L345.9 337.2 L347.2 342.2 L358.5 344.7 L371.0 341.0 L376.1 347.2 L381.1 342.2 L376.1 334.7 L363.5 329.6 L359.7 317.0 L368.6 309.5 L381.1 310.8 L392.0 313.6 L400.0 311.6 L410.2 308.6 L417.2 300.6 L414.2 294.5 L420.2 289.5 L430.3 286.5 L436.4 280.4 L442.4 270.4 L445.4 262.3 L442.4 250.3 L448.4 240.2 L460.5 235.2 L470.6 239.2 L484.6 238.2 L494.7 243.2 L501.8 249.2 L496.7 260.3 L492.7 274.4 L494.7 286.5 L491.7 300.6 L492.6 312.1 L490.6 324.2 L492.6 331.2 L504.7 328.2 L514.7 322.1 L528.8 321.1 L540.9 320.1 L548.9 318.1 L556.4 309.6 L564.4 301.5 L576.5 291.5 L584.5 283.4 L590.6 275.4 L594.6 270.3" fill="none" stroke="#2438b8" stroke-width="1.1"/>
<path d="M220.0 334.7 L237.7 337.2 L242.8 324.6 L257.9 328.4 L270.4 329.6 L285.5 323.3 L295.6 325.9 L305.7 337.2 L318.2 349.8 L328.3 364.8 L338.0 380.0 L340.5 395.0 L340.0 415.2 L343.0 430.3 L346.8 445.4 L351.8 453.0 L355.6 445.4 L358.1 439.1 L359.4 450.4 L356.9 460.5 L360.6 465.5 L372.1 462.4 L375.1 466.4 L380.1 467.4 L386.2 464.4 L393.2 462.4 L393.2 448.3 L399.2 440.3 L402.3 434.2 L407.3 427.2 L418.4 426.2 L428.4 423.1 L435.5 421.1 L442.5 414.1 L449.3 411.7 L458.4 404.6 L466.4 396.6 L472.4 391.6 L480.5 389.6 L490.6 387.5 L500.6 388.6 L508.7 393.6 L514.7 398.6 L520.8 400.6 L524.8 406.7 L530.8 404.6 L536.8 406.7 L542.9 398.6 L546.9 390.6 L555.1 388.6 L560.1 394.7 L568.2 400.7 L576.2 401.7 L584.3 394.7 L590.3 384.6 L596.4 374.5 L602.4 366.5 L606.4 360.4 L612.5 355.4 L620.5 356.4 L628.6 358.4 L634.6 356.4 L642.6 360.4 L650.7 362.5" fill="none" stroke="#2438b8" stroke-width="1.1"/>
<path d="M360.0 434.2 L366.0 446.3 L372.1 458.4 L375.1 466.4" fill="none" stroke="#2438b8" stroke-width="1.1"/>
<path d="M85.5 290.6 L99.4 290.6 L103.0 284.0 L110.7 279.3 L118.0 282.0 L125.8 285.6 L132.0 283.0 L138.4 282.3 L146.0 287.0 L153.5 291.4 L162.0 289.5 L171.0 288.9 L180.0 288.0 L186.2 284.8 L200.0 283.8 L212.6 285.6 L222.6 291.9 L231.4 294.4 L246.5 296.9 L242.8 285.6 L249.0 279.3 L245.3 269.3 L240.3 261.7 L242.8 256.7 L257.9 254.2 L275.5 252.1" fill="none" stroke="#000" stroke-width="1" stroke-dasharray="3 1.5"/>
<path d="M322.8 199.3 L318.2 206.8 L315.7 213.1 L305.7 215.6 L294.3 221.9 L288.0 229.0 L278.0 230.3 L275.5 239.1 L275.5 252.1 L295.6 252.9 L305.7 256.7 L315.7 266.7 L323.3 269.3 L324.5 257.9 L335.8 261.7 L347.2 260.4 L354.7 269.3 L366.0 273.0 L373.6 279.3 L383.6 283.1 L389.9 289.4 L393.7 302.0 L396.2 312.0 L388.7 319.6 L381.1 329.6 L383.6 339.7 L387.4 347.2 L381.1 352.3 L376.1 344.7 L366.0 342.2 L361.0 347.2 L350.9 344.7 L340.9 342.2 L335.8 339.7 L327.0 339.7 L323.3 344.7 L325.8 354.8 L320.8 364.8 L310.7 374.9 L300.6 372.4 L293.1 364.8 L285.5 357.3 L275.5 357.3 L265.4 352.3 L255.3 349.8 L242.8 342.2 L232.7 339.7 L225.2 329.6 L223.9 314.5 L227.7 296.9 L231.4 294.4" fill="none" stroke="#000" stroke-width="1" stroke-dasharray="3 1.5"/>
<path d="M332.1 201.0 L334.6 211.8 L338.4 219.4 L337.1 229.0 L342.1 229.0 L342.1 236.5 L350.9 232.8 L364.8 231.5 L366.0 240.3 L357.2 246.6 L371.0 251.6 L373.6 261.7 L383.6 266.7 L387.4 260.4 L396.1 262.3 L402.1 258.3 L411.2 256.3 L412.2 263.3 L409.2 270.4 L403.1 274.4 L402.1 280.4 L408.2 284.5 L416.2 287.5 L419.2 290.5 L427.3 298.6 L428.3 308.6 L432.3 318.7 L439.4 324.7" fill="none" stroke="#000" stroke-width="1" stroke-dasharray="3 1.5"/>
<path d="M438.4 258.3 L434.3 266.4 L433.3 274.4 L430.3 280.4 L423.3 286.5 L419.2 290.5" fill="none" stroke="#000" stroke-width="1" stroke-dasharray="3 1.5"/>
<path d="M445.4 263.3 L450.4 276.4 L456.5 282.5 L451.4 284.5 L450.4 292.5 L444.4 294.5 L440.4 300.6 L442.4 310.6 L446.4 316.7 L444.4 322.7 L439.4 324.7" fill="none" stroke="#000" stroke-width="1" stroke-dasharray="3 1.5"/>
<path d="M456.5 282.5 L462.5 284.5 L468.5 280.4 L472.6 272.4 L476.6 266.4 L482.6 259.3 L488.7 256.3 L496.7 253.3 L500.8 251.2 L506.3 250.8 L510.1 241.4 L517.6 238.9 L525.2 237.6 L530.2 232.6 L528.9 227.6 L528.3 221.3 L530.7 211.4 L534.7 208.4 L538.7 212.4 L544.8 214.4 L550.8 210.4 L556.9 208.4 L560.9 202.3 L566.9 199.3 L573.0 200.3 L580.2 202.6 L590.3 199.6 L598.4 204.6 L602.4 201.6 L608.1 194.5 L616.2 190.5 L624.2 184.5 L630.3 178.4 L633.3 171.4" fill="none" stroke="#000" stroke-width="1" stroke-dasharray="3 1.5"/>
<path d="M450.4 292.5 L460.5 296.5 L466.5 300.6 L468.5 310.6 L466.5 318.7 L456.5 321.7 L457.5 326.7 L446.4 326.7 L441.3 320.1 L434.2 316.1 L428.2 310.1 L426.2 300.0" fill="none" stroke="#000" stroke-width="1" stroke-dasharray="3 1.5"/>
<path d="M441.3 320.1 L442.3 330.2 L443.3 338.2 L440.3 348.3 L434.2 352.3 L432.2 358.4 L428.2 360.4 L420.1 363.4 L415.1 360.4 L412.1 350.3 L406.0 347.3 L398.0 347.0 L392.0 352.0 L387.0 348.0" fill="none" stroke="#000" stroke-width="1" stroke-dasharray="3 1.5"/>
<path d="M392.1 294.5 L394.1 304.6 L397.1 310.6 L392.1 316.7 L386.0 320.7 L382.0 328.7" fill="none" stroke="#000" stroke-width="1" stroke-dasharray="3 1.5"/>
<path d="M530.2 232.6 L535.2 237.6 L536.5 243.9 L537.1 252.7 L531.4 259.0 L528.3 267.8 L532.7 274.1 L536.5 280.4 L534.0 286.7 L533.0 290.5 L530.9 298.6 L533.0 306.6 L528.9 312.6 L518.9 320.7 L512.8 322.7 L508.8 328.7 L498.6 328.2 L491.6 330.2" fill="none" stroke="#000" stroke-width="1" stroke-dasharray="3 1.5"/>
<path d="M549.7 237.6 L550.3 231.4 L555.3 227.6 L560.4 224.4 L565.4 227.6 L570.4 228.8 L571.7 233.9 L567.9 237.6 L569.2 242.7 L562.9 247.7 L556.6 246.4 L551.6 245.2 L549.7 237.6" fill="none" stroke="#000" stroke-width="1" stroke-dasharray="3 1.5"/>
<path d="M569.2 242.7 L575.5 245.2 L578.0 247.7 L575.5 254.0 L574.2 260.3 L567.9 257.8 L566.7 251.5 L562.9 247.7" fill="none" stroke="#000" stroke-width="1" stroke-dasharray="3 1.5"/>
<path d="M574.2 261.5 L570.4 271.6 L565.4 276.6 L561.6 281.7 L559.1 286.7 L555.1 290.0 L553.1 298.0 L560.1 304.1 L554.1 310.1 L558.1 316.2 L550.1 320.2 L556.1 323.2 L562.1 326.2 L568.2 324.2" fill="none" stroke="#000" stroke-width="1" stroke-dasharray="3 1.5"/>
<path d="M553.1 298.0 L545.0 300.0 L540.9 300.0 L531.8 302.0 L532.8 310.1 L528.8 317.1" fill="none" stroke="#000" stroke-width="1" stroke-dasharray="3 1.5"/>
<path d="M590.3 199.6 L591.3 208.7 L595.3 216.7 L598.0 226.0 L600.0 236.0" fill="none" stroke="#000" stroke-width="1" stroke-dasharray="3 1.5"/>
<path d="M432.2 358.4 L440.3 360.4 L448.3 362.4 L454.3 366.4 L462.4 369.4 L468.4 370.4 L469.4 376.5 L466.4 382.5 L464.4 388.6 L460.4 392.6 L454.3 396.6 L450.3 402.6 L445.3 406.7 L440.0 412.0 L434.5 422.1 L428.4 416.1 L426.4 409.1" fill="none" stroke="#000" stroke-width="1" stroke-dasharray="3 1.5"/>
<path d="M468.4 370.4 L476.5 374.5 L482.5 377.5 L488.6 380.5 L492.6 384.5 L491.6 389.6 L484.5 393.6 L476.5 394.6 L470.4 398.6 L469.4 406.7 L474.5 412.7 L480.5 416.7 L481.8 420.1 L481.8 433.2" fill="none" stroke="#000" stroke-width="1" stroke-dasharray="3 1.5"/>
<path d="M491.6 330.2 L496.6 340.2 L500.6 348.3 L496.6 354.3 L488.6 353.3 L482.5 354.3 L486.5 358.4 L491.6 360.4 L488.6 364.4 L483.5 365.4 L482.5 374.5" fill="none" stroke="#000" stroke-width="1" stroke-dasharray="3 1.5"/>
<path d="M500.6 348.3 L504.7 356.3 L512.7 360.4 L520.8 364.4 L528.8 362.4 L538.9 364.4 L540.9 370.4 L548.9 373.5 L552.1 373.5 L564.2 372.5 L568.2 367.5 L567.2 359.4 L558.1 356.4 L554.1 350.4 L560.1 346.4 L561.1 335.3 L567.2 338.3 L572.2 337.3 L575.2 332.3 L570.2 329.2 L568.2 324.2 L570.2 320.2 L577.2 319.2 L580.3 323.2 L586.3 322.2 L594.3 320.2 L600.4 316.2 L605.4 312.1" fill="none" stroke="#000" stroke-width="1" stroke-dasharray="3 1.5"/>
<path d="M580.3 323.2 L588.3 330.3 L594.3 333.3 L593.3 342.3 L598.4 348.4 L602.4 354.4 L606.4 359.4 L604.4 365.5 L608.4 370.5 L619.5 371.5 L626.5 373.5 L632.6 374.5 L638.6 370.5 L640.6 365.5" fill="none" stroke="#000" stroke-width="1" stroke-dasharray="3 1.5"/>
<path d="M619.5 371.5 L620.5 378.6 L616.5 384.6 L618.5 390.6 L610.4 394.7 L606.4 399.7 L598.4 400.7 L592.3 397.7 L586.3 398.7 L580.3 401.7 L577.2 399.7 L572.2 392.6 L571.2 386.6 L566.2 380.6 L564.2 372.5" fill="none" stroke="#000" stroke-width="1" stroke-dasharray="3 1.5"/>
<path d="M481.8 420.1 L478.7 410.1 L472.7 408.0 L469.7 400.0 L476.0 398.0 L484.0 400.0 L492.0 398.0 L500.0 402.0 L510.1 403.0 L520.1 407.1 L526.2 409.1 L538.2 405.1 L543.3 405.0 L548.3 413.1 L558.4 407.1 L566.4 403.0 L576.5 400.0 L584.5 399.0 L588.6 401.0 L596.6 400.0 L603.6 403.0" fill="none" stroke="#000" stroke-width="1" stroke-dasharray="3 1.5"/>
<path d="M543.3 405.0 L542.3 413.1 L548.3 417.1 L549.3 427.2 L544.3 435.3 L547.3 445.3 L553.3 453.4 L551.3 463.4 L553.3 472.5 L562.4 472.5 L563.4 477.5 L557.4 481.5 L560.4 486.6 L568.4 484.6 L575.5 480.5 L579.5 483.5 L580.5 476.5" fill="none" stroke="#000" stroke-width="1" stroke-dasharray="3 1.5"/>
<path d="M580.5 476.5 L581.5 467.5 L585.5 457.4 L586.5 447.3 L593.6 440.3 L591.6 432.2 L598.6 427.2 L604.7 424.2 L609.7 419.2 L608.7 411.1 L603.6 403.0 L606.4 399.7" fill="none" stroke="#000" stroke-width="1" stroke-dasharray="3 1.5"/>
<path d="M609.7 419.2 L615.7 425.2 L620.7 431.2 L628.8 430.2 L632.8 433.2 L637.0 431.0" fill="none" stroke="#000" stroke-width="1" stroke-dasharray="3 1.5"/>
<path d="M580.5 476.5 L588.6 478.5 L594.6 483.5 L597.6 491.6 L602.0 494.0" fill="none" stroke="#000" stroke-width="1" stroke-dasharray="3 1.5"/>
<path d="M553.3 472.5 L544.3 474.5 L539.2 475.5 L536.2 481.5 L530.2 478.5 L526.2 483.5 L524.2 491.6 L520.1 497.6 L519.1 507.7 L518.1 517.0 L514.0 524.0 L508.0 530.0 L505.0 540.0" fill="none" stroke="#000" stroke-width="1" stroke-dasharray="3 1.5"/>
<path d="M526.2 483.5 L520.1 487.6 L516.1 481.5 L510.1 483.5 L512.1 477.5 L514.1 469.5 L513.0 462.4 L504.9 460.4 L498.9 464.4 L490.8 466.4 L485.8 468.4" fill="none" stroke="#000" stroke-width="1" stroke-dasharray="3 1.5"/>
<path d="M434.5 422.1 L439.5 426.2 L446.5 425.2 L454.6 419.1 L462.6 420.1 L468.7 426.2 L474.7 432.2 L481.8 433.2 L484.8 442.3 L478.7 450.3 L485.8 452.3 L486.8 460.4 L485.8 468.4 L478.7 471.4 L472.7 476.5 L464.6 480.5 L458.6 479.5 L454.6 476.5 L448.6 482.5 L440.5 485.5 L434.5 488.6 L426.4 486.5 L422.4 488.6 L416.4 490.6 L418.4 482.5 L413.3 476.5 L415.3 468.4 L414.3 460.4 L405.3 458.4 L403.3 452.3 L407.3 447.3 L415.3 449.3 L420.4 446.3 L426.4 440.3 L420.4 436.2 L414.3 435.2 L413.3 429.2 L420.4 426.2 L430.4 423.1 L434.5 422.1" fill="none" stroke="#000" stroke-width="1" stroke-dasharray="3 1.5"/>
<path d="M416.4 490.6 L415.3 494.6 L422.4 496.6 L426.4 500.6 L434.5 500.6 L437.5 506.7 L439.5 509.7" fill="none" stroke="#000" stroke-width="1" stroke-dasharray="3 1.5"/>
<path d="M320.8 364.8 L328.0 372.0 L333.0 380.0 L338.0 392.0 L336.0 404.0 L338.0 416.0 L342.0 428.0 L345.0 440.0 L340.0 448.0 L333.0 450.0" fill="none" stroke="#000" stroke-width="1" stroke-dasharray="3 1.5"/>
<path d="M342.0 428.0 L350.0 425.0 L356.0 432.0 L362.0 440.0 L366.0 452.0 L372.0 458.0 L380.0 456.0 L388.0 452.0 L394.0 444.0 L400.0 438.0 L408.0 432.0 L413.3 429.2" fill="none" stroke="#000" stroke-width="1" stroke-dasharray="3 1.5"/>
<path d="M584.3 20.1 L585.3 30.2 L592.4 33.2 L599.4 38.2 L601.4 46.3 L608.5 50.3 L616.5 47.3 L624.6 43.3 L628.6 41.3 L635.6 47.3 L634.6 58.4 L632.6 68.4 L633.6 78.5 L630.6 84.5 L628.6 94.6 L624.6 96.6 L618.6 100.6 L613.5 108.7 L612.1 110.0 L616.2 118.0 L624.2 121.1 L630.3 128.1 L633.3 136.2 L630.0 145.0 L628.2 158.3 L630.3 164.3 L633.3 171.4" fill="none" stroke="#000" stroke-width="1" stroke-dasharray="3 1.5"/>
<path d="M633.3 136.2 L640.3 139.2 L650.4 136.2 L658.4 140.2 L667.5 139.2 L670.5 146.2 L676.5 147.2 L678.6 151.3 L684.6 145.2 L688.6 150.2 L694.7 158.3 L698.7 152.3 L706.7 147.2 L712.8 151.3 L718.8 153.3" fill="none" stroke="#000" stroke-width="1" stroke-dasharray="3 1.5"/>
<path d="M633.3 171.4 L638.3 173.4 L644.3 176.4 L649.4 175.4 L654.4 180.4 L658.4 188.5 L660.4 194.5 L665.5 200.6 L667.5 206.6" fill="none" stroke="#000" stroke-width="1" stroke-dasharray="3 1.5"/>
<path d="M605.1 136.2 L612.1 138.2 L616.2 150.2 L620.2 160.3 L628.2 158.3" fill="none" stroke="#000" stroke-width="1" stroke-dasharray="3 1.5"/>
<path d="M44.0 197.3 L54.1 187.2 L66.7 184.2 L73.0 185.4 L76.7 188.7 L85.5 188.7 L91.1 182.9 L96.9 183.7 L104.4 180.4 L119.5 179.6 L132.1 177.1 L137.1 172.9 L137.1 168.6 L144.7 161.0 L144.7 142.7 L142.9 136.4 L146.4 131.3 L163.5 130.8 L172.3 135.9 L171.1 127.6 L176.1 121.3 L186.7 106.2 L192.5 110.0 L200.0 111.7 L210.0 113.7 L217.6 94.1 L226.4 93.6 L231.2 85.0 L242.0 85.0 L243.0 93.6 L247.8 102.4 L261.6 110.0 L266.7 122.5 L268.4 128.8 L265.4 140.2 L262.4 149.0 L267.9 155.2 L291.8 161.0 L299.4 167.1 L310.7 174.1 L315.7 184.2 L317.0 190.5 L322.8 199.3 L340.9 201.0 L364.8 204.3 L384.9 208.1 L400.0 213.9 L415.0 218.9 L429.0 217.9 L439.0 213.4 L454.0 210.4 L473.0 207.0 L485.5 200.8 L491.4 193.3 L500.5 185.2 L496.5 177.2 L496.0 172.1 L502.5 164.1 L508.6 167.1 L520.6 169.1 L524.6 164.1 L531.7 159.1 L540.8 155.0 L544.0 152.3 L547.0 147.3 L552.0 139.2 L561.0 135.2 L572.2 130.2 L583.3 130.2 L584.7 126.2 L580.2 121.0 L570.0 112.5 L564.2 110.3 L556.2 116.7 L550.1 114.7 L540.1 118.7 L535.0 113.7 L541.1 94.6 L545.1 85.5 L558.2 84.5 L560.2 80.5 L569.2 74.5 L573.3 52.3 L579.3 43.3 L578.3 36.2 L571.3 32.2 L578.3 21.1 L590.4 16.1 L600.4 13.1 L612.5 14.1 L621.6 16.1 L628.6 19.1 L634.6 27.2 L639.7 38.2 L648.7 49.3 L655.8 62.4 L660.8 65.4 L670.9 64.4 L680.9 67.4 L690.6 73.0 L695.6 81.8 L705.7 85.0 L715.8 83.0 L723.3 74.2 L735.9 64.9 L738.4 75.5 L735.9 93.1 L734.5 110.0 L730.9 120.1 L718.8 126.1 L711.8 132.1 L715.8 142.2 L720.8 152.3 L721.8 158.3 L718.8 167.4 L712.8 163.3 L708.7 170.4 L702.7 172.4 L701.7 179.4 L694.7 182.5 L693.6 188.5 L684.6 190.5 L678.6 189.5 L674.5 194.5 L674.5 200.6 L667.5 206.6 L660.4 213.6 L654.5 219.5 L654.5 226.0 L644.1 229.7 L632.7 238.5 L626.4 244.8 L623.9 248.6 L618.9 249.9 L625.2 241.1 L620.2 239.8 L622.7 233.5 L627.7 223.4 L626.4 215.9 L621.4 213.4 L612.6 218.9 L604.6 232.1 L596.6 238.1 L593.6 244.2 L584.5 247.2 L579.5 251.2 L577.5 258.3 L580.5 265.3 L588.5 267.7 L594.6 269.3 L594.6 275.4 L602.6 277.4 L608.7 270.3 L615.7 266.3 L622.8 267.3 L628.8 270.3 L636.8 267.3 L640.9 269.3 L640.9 274.4 L632.8 275.4 L626.8 280.4 L621.8 284.4 L620.8 288.5 L615.7 291.5 L612.7 299.5 L606.7 307.6 L605.4 310.1 L605.4 315.2 L616.5 320.2 L622.5 328.2 L628.6 338.3 L632.6 346.3 L640.6 352.4 L648.7 357.4 L638.6 358.4 L644.7 364.5 L650.7 370.5 L644.7 376.5 L638.6 382.6 L648.7 388.6 L655.7 394.7 L652.7 398.7 L653.5 408.0 L650.0 413.0 L645.0 417.0 L643.0 427.0 L636.9 431.2 L638.9 441.3 L632.8 447.3 L633.5 455.0 L632.8 463.4 L625.8 465.4 L620.7 473.5 L612.7 481.5 L604.7 487.6 L602.6 493.6 L596.6 499.6 L590.6 506.7 L576.1 513.6 L563.5 517.4 L557.2 522.4 L552.2 516.1 L548.4 523.7 L539.6 527.4 L528.3 532.5 L520.8 536.2 L509.4 541.3 L503.5 543.5 L501.5 548.7 L504.9 554.9 L506.8 559.9 L502.4 562.2 L499.3 561.2 L496.8 554.9 L493.0 547.4 L494.3 542.5 L496.9 541.3 L493.0 537.5 L485.5 540.0 L478.0 533.7 L474.2 537.5 L464.0 538.8 L454.0 535.0 L446.5 528.7 L447.8 519.9 L437.7 517.4 L437.0 510.0 L429.9 512.2 L420.9 515.2 L412.8 520.3 L405.8 524.3 L398.7 520.3 L392.7 525.3 L385.7 521.3 L379.6 525.3 L372.6 526.7 L371.6 530.3 L373.6 540.4 L372.6 545.4 L365.5 544.4 L362.5 538.4 L353.5 540.0 L347.4 537.4 L344.4 531.3 L336.4 527.3 L337.4 521.3 L340.4 516.2 L329.3 505.2 L327.3 496.1 L312.2 498.1 L316.2 494.0 L314.2 488.0 L316.2 480.0 L322.9 473.1 L331.7 460.5 L333.0 450.4 L330.4 439.1 L325.4 430.3 L319.0 425.3 L311.6 435.3 L304.0 429.0 L290.0 427.8 L276.4 431.6 L265.0 439.0 L256.0 444.4 L239.6 441.9 L239.6 436.9 L233.3 426.8 L223.3 421.8 L210.7 416.7 L195.0 428.0 L193.0 416.7 L175.5 416.7 L165.4 411.7 L159.0 411.7 L154.0 407.4 L141.5 396.6 L134.0 387.8 L126.4 382.8 L115.7 369.9 L105.7 359.8 L96.9 363.6 L91.8 354.8 L83.0 346.0 L74.2 338.4 L71.7 328.4 L73.0 316.5 L84.3 319.6 L83.0 304.5 L85.5 286.9 L80.5 283.1 L80.5 269.3 L65.4 260.4 L57.9 254.2 L60.4 247.9 L57.9 240.3 L46.5 232.8 L54.1 229.0 L55.3 215.6 L51.6 210.6 L45.8 206.8 L46.5 201.8Z" fill="none" stroke="#000" stroke-width="1.9" stroke-linejoin="round"/>
<path d="M499.9 563.0 L494.9 564.9 L487.4 567.4 L483.7 572.4 L479.3 576.1 L478.7 582.3 L480.6 588.6 L487.4 591.7 L494.9 594.2 L501.2 589.8 L507.4 583.6 L509.9 574.9 L510.5 567.4 L507.4 563.0Z" fill="none" stroke="#000" stroke-width="1.7" stroke-linejoin="round"/>
<path d="M661.8 462.1 L666.7 463.0 L668.4 472.8 L667.8 480.0 L666.7 485.9 L664.3 497.4 L661.0 507.2 L659.3 513.8 L655.2 508.0 L648.7 503.1 L645.9 494.1 L646.2 485.9 L651.1 474.4 L655.2 466.2 L659.3 462.1Z" fill="none" stroke="#000" stroke-width="1.7" stroke-linejoin="round"/>
<rect x="1.5" y="0.5" width="793" height="607" fill="none" stroke="#000" stroke-width="1"/>
<rect x="793" y="455" width="2" height="90" fill="#000"/>
<g fill="#a00000"><rect x="7" y="0" width="6" height="1.6"/><rect x="17" y="0" width="20" height="1.6"/><rect x="48" y="0" width="5" height="1.6"/><rect x="57" y="0" width="10" height="1.6"/><rect x="71" y="0" width="6" height="1.6"/></g>
<rect x="213.5" y="3.5" width="345" height="80" fill="#fff" stroke="#000" stroke-width="1"/>
<rect x="4.5" y="403.5" width="148" height="200" fill="#fff" stroke="#000" stroke-width="1"/>
<rect x="13" y="434.2" width="41" height="15.2" fill="#8B1717"/>
<rect x="13" y="452.0" width="41" height="15.2" fill="#FF0000"/>
<rect x="13" y="469.0" width="41" height="15.2" fill="#FF9933"/>
<rect x="13" y="486.2" width="41" height="15.2" fill="#FFFF99"/>
<rect x="13" y="503.7" width="41" height="15.2" fill="#FFFFCC"/>
<rect x="13" y="520.8" width="41" height="15.2" fill="#BFFFFF"/>
<rect x="13" y="538.9" width="41" height="15.2" fill="#00FFFF"/>
<rect x="13" y="556.0" width="41" height="15.2" fill="#1E90FF"/>
<rect x="13" y="573.1" width="41" height="15.2" fill="#0000AA"/>
<rect x="680" y="456" width="114.5" height="151.5" fill="#fff" stroke="none"/><path d="M680 607.5V456H794.5" fill="none" stroke="#000" stroke-width="2"/>
<rect x="736.5" y="586.5" width="58" height="21" fill="#fff" stroke="#000" stroke-width="1"/>
<path d="M676.8 513.1 L665.0 530.2" fill="none" stroke="#000" stroke-width="1.4"/>
<path d="M655.4 564.7 L654.0 573.0" fill="none" stroke="#000" stroke-width="1.4"/>
<rect x="494" y="594.3" width="1.8" height="1.4" fill="#c03010"/>
<path d="M707.5 468.1 L711.2 466.6 L712.7 471.1 L716.5 469.6 L720.0 467.0 L724.8 466.6 L730.0 464.0 L735.4 464.3 L741.4 461.3 L746.0 461.0 L750.5 459.8 L759.5 456.8" fill="none" stroke="#000" stroke-width="1.7"/>
<path d="M681.8 456.8 L690.1 459.8 L691.6 464.3 L697.6 467.4 L702.9 465.1 L707.5 468.1" fill="none" stroke="#000" stroke-width="0.9"/>
<path d="M707.5 468.1 L709.0 472.0 L711.2 474.9 L714.0 476.0 L715.5 473.0 L716.5 469.6" fill="none" stroke="#000" stroke-width="0.9"/>
<path d="M697.6 467.4 L690.1 472.6 L684.8 478.7 L683.3 484.7 L687.1 490.8 L694.6 498.3 L702.2 504.3 L705.9 510.4 L708.2 519.4 L707.5 531.5 L700.7 536.0 L690.1 540.6 L681.0 546.0" fill="none" stroke="#000" stroke-width="0.9"/>
<path d="M702.2 499.0 L705.9 505.1" fill="none" stroke="#000" stroke-width="0.9"/>
<path d="M710.5 531.5 L709.0 537.5" fill="none" stroke="#000" stroke-width="0.9"/>
<path d="M779.2 487.7 L776.1 493.8" fill="none" stroke="#000" stroke-width="0.9"/>
<path d="M774.6 506.6 L773.9 511.9" fill="none" stroke="#000" stroke-width="0.9"/>
<path d="M771.6 531.5 L769.3 537.5" fill="none" stroke="#000" stroke-width="0.9"/>
<path d="M777.6 534.5 L774.6 540.6" fill="none" stroke="#000" stroke-width="0.9"/>
<path d="M791.2 487.7 L785.2 487.7 L782.9 493.8 L783.7 499.8 L779.2 503.6 L781.4 510.4 L786.7 514.9 L785.9 519.4 L792.7 518.7" fill="none" stroke="#000" stroke-width="0.9"/>
<path d="M791.0 505.0 L789.5 512.0 L791.0 518.0" fill="none" stroke="#000" stroke-width="0.9"/>
<path d="M780.7 457.5 L783.0 462.0 L786.7 465.1 L789.7 457.5" fill="none" stroke="#000" stroke-width="0.9"/>
<path d="M786.7 474.2 L793.5 468.9" fill="none" stroke="#000" stroke-width="0.9"/>
<path d="M705.0 603.8 L706.0 599.0 L707.6 594.4 L713.9 596.3 L721.4 595.6 L723.3 588.7 L731.5 586.8 L741.5 576.1 L749.1 574.3 L755.4 565.4 L760.4 561.0 L765.4 566.7 L770.5 571.7 L775.5 573.6 L768.6 576.1 L770.5 578.0 L766.7 580.5 L766.1 584.3" fill="none" stroke="#000" stroke-width="0.9"/>
<path d="M696.3 562.3 L696.3 569.8" fill="none" stroke="#000" stroke-width="0.9"/>
<path d="M720.2 586.2 L727.7 583.1" fill="none" stroke="#000" stroke-width="0.9"/>
<path d="M747.8 562.3 L753.5 556.6" fill="none" stroke="#000" stroke-width="0.9"/>
<path d="M762.3 552.2 L778.0 539.0 L779.0 540.5 L763.5 553.5 L762.3 552.2" fill="none" stroke="#000" stroke-width="0.9"/>
<path d="M690.6 445.0 L689.8 447.5" fill="none" stroke="#000" stroke-width="0.9"/>
<path d="M704.5 442.5 L706.0 441.0" fill="none" stroke="#000" stroke-width="0.9"/>
<ellipse cx="711.7" cy="483.2" rx="8.3" ry="5.2" transform="rotate(-22 711.7 483.2)" fill="none" stroke="#000" stroke-width="1.3"/>
<ellipse cx="787.5" cy="524" rx="3.6" ry="4.4" fill="none" stroke="#000" stroke-width="0.9"/>
<rect x="757.8" y="472.7" width="2" height="2" fill="#000"/>
<rect x="727.9" y="496.8" width="2" height="2" fill="#000"/>
<rect x="741.8" y="538.7" width="2" height="2" fill="#000"/>
<rect x="789.9" y="463.8" width="2" height="2" fill="#000"/>
<rect x="223.2" y="169.1" width="2.4" height="2.4" fill="#fff" stroke="#000" stroke-width="0.9"/>
<rect x="661.1" y="128.2" width="2.4" height="2.4" fill="#fff" stroke="#000" stroke-width="0.9"/>
<rect x="650.8" y="160.5" width="3" height="3" fill="#000"/>
<rect x="636.9" y="198.0" width="3" height="3" fill="#000"/>
<rect x="501.3" y="230.9" width="2.4" height="2.4" fill="#fff" stroke="#000" stroke-width="0.9"/>
<rect x="557.7" y="239.8" width="2.4" height="2.4" fill="#fff" stroke="#000" stroke-width="0.9"/>
<rect x="569.8" y="251.1" width="3" height="3" fill="#000"/>
<rect x="538.4" y="272.1" width="2.4" height="2.4" fill="#fff" stroke="#000" stroke-width="0.9"/>
<rect x="515.2" y="278.2" width="2.4" height="2.4" fill="#fff" stroke="#000" stroke-width="0.9"/>
<rect x="572.7" y="289.7" width="2.4" height="2.4" fill="#fff" stroke="#000" stroke-width="0.9"/>
<rect x="533.2" y="324.6" width="2.4" height="2.4" fill="#fff" stroke="#000" stroke-width="0.9"/>
<rect x="436.6" y="270.6" width="2.4" height="2.4" fill="#fff" stroke="#000" stroke-width="0.9"/>
<rect x="407.6" y="308.8" width="2.4" height="2.4" fill="#fff" stroke="#000" stroke-width="0.9"/>
<rect x="379.9" y="299.5" width="2.4" height="2.4" fill="#fff" stroke="#000" stroke-width="0.9"/>
<rect x="472.0" y="335.3" width="3" height="3" fill="#000"/>
<rect x="585.1" y="364.6" width="2.4" height="2.4" fill="#fff" stroke="#000" stroke-width="0.9"/>
<rect x="546.0" y="388.5" width="3" height="3" fill="#000"/>
<rect x="408.3" y="393.6" width="2.4" height="2.4" fill="#fff" stroke="#000" stroke-width="0.9"/>
<rect x="441.3" y="410.8" width="2.4" height="2.4" fill="#fff" stroke="#000" stroke-width="0.9"/>
<rect x="446.0" y="458.7" width="2.4" height="2.4" fill="#fff" stroke="#000" stroke-width="0.9"/>
<rect x="387.6" y="483.9" width="2.4" height="2.4" fill="#fff" stroke="#000" stroke-width="0.9"/>
<rect x="534.8" y="428.6" width="2.4" height="2.4" fill="#fff" stroke="#000" stroke-width="0.9"/>
<rect x="573.4" y="418.2" width="2.4" height="2.4" fill="#fff" stroke="#000" stroke-width="0.9"/>
<rect x="605.3" y="359.0" width="3" height="3" fill="#000"/>
<rect x="642.8" y="366.3" width="2.4" height="2.4" fill="#fff" stroke="#000" stroke-width="0.9"/>
<rect x="628.4" y="384.8" width="2.4" height="2.4" fill="#fff" stroke="#000" stroke-width="0.9"/>
<rect x="626.3" y="451.6" width="2.4" height="2.4" fill="#fff" stroke="#000" stroke-width="0.9"/>
<rect x="661.1" y="463.1" width="2.4" height="2.4" fill="#fff" stroke="#000" stroke-width="0.9"/>
<rect x="230.1" y="396.2" width="2.4" height="2.4" fill="#fff" stroke="#000" stroke-width="0.9"/>
<rect x="471.0" y="518.8" width="2.4" height="2.4" fill="#fff" stroke="#000" stroke-width="0.9"/>
<rect x="541.8" y="511.2" width="2.4" height="2.4" fill="#fff" stroke="#000" stroke-width="0.9"/>
<rect x="559.1" y="521.3" width="2.4" height="2.4" fill="#fff" stroke="#000" stroke-width="0.9"/>
<rect x="507.0" y="564.5" width="2.4" height="2.4" fill="#fff" stroke="#000" stroke-width="0.9"/>
<rect x="631.9" y="181.9" width="2.2" height="2.2" fill="#000"/>
<rect x="645.6" y="178.4" width="2.2" height="2.2" fill="#000"/>
<rect x="649.2" y="174.8" width="2.2" height="2.2" fill="#000"/>
<rect x="636.5" y="171.3" width="2.2" height="2.2" fill="#000"/>
</svg>
<div class="t b" style="left:243.5px;top:22.0px;font-size:17px;letter-spacing:0.2px">全国标准化降水指数</div>
<div class="t " style="left:400.0px;top:19.6px;font-size:20px;"><span style="display:inline-block;width:13.60px;text-align:center">(</span><span style="display:inline-block;width:13.60px;text-align:center">S</span><span style="display:inline-block;width:13.60px;text-align:center">P</span><span style="display:inline-block;width:13.60px;text-align:center">I</span><span style="display:inline-block;width:13.60px;text-align:center">)</span></div>
<div class="t b" style="left:467.6px;top:22.0px;font-size:17px;letter-spacing:0.2px">分布图</div>
<div class="t " style="left:236.6px;top:47.8px;font-size:20.3px;"><span style="display:inline-block;width:13.75px;text-align:center">2</span><span style="display:inline-block;width:13.75px;text-align:center">0</span><span style="display:inline-block;width:13.75px;text-align:center">0</span><span style="display:inline-block;width:13.75px;text-align:center">7</span><span style="display:inline-block;width:13.75px;text-align:center">0</span><span style="display:inline-block;width:13.75px;text-align:center">8</span><span style="display:inline-block;width:13.75px;text-align:center">1</span><span style="display:inline-block;width:13.75px;text-align:center">1</span><span style="display:inline-block;width:13.75px;text-align:center">-</span><span style="display:inline-block;width:13.75px;text-align:center">-</span><span style="display:inline-block;width:13.75px;text-align:center">2</span><span style="display:inline-block;width:13.75px;text-align:center">0</span><span style="display:inline-block;width:13.75px;text-align:center">0</span><span style="display:inline-block;width:13.75px;text-align:center">7</span><span style="display:inline-block;width:13.75px;text-align:center">0</span><span style="display:inline-block;width:13.75px;text-align:center">9</span><span style="display:inline-block;width:13.75px;text-align:center">1</span><span style="display:inline-block;width:13.75px;text-align:center">2</span></div>
<div class="t b" style="left:47.0px;top:407.5px;font-size:18px;">图</div>
<div class="t b" style="left:95.0px;top:407.5px;font-size:18px;">例</div>
<div class="t b" style="left:85.5px;top:437.7px;font-size:12.3px;">特别干</div>
<div class="t b" style="left:85.5px;top:455.5px;font-size:12.3px;">严重干</div>
<div class="t b" style="left:85.5px;top:472.5px;font-size:12.3px;">中等干</div>
<div class="t b" style="left:85.5px;top:489.7px;font-size:12.3px;">轻微干</div>
<div class="t b" style="left:91.5px;top:507.2px;font-size:12.3px;">正常</div>
<div class="t b" style="left:85.5px;top:524.3px;font-size:12.3px;">轻微湿</div>
<div class="t b" style="left:85.5px;top:542.4px;font-size:12.3px;">中等湿</div>
<div class="t b" style="left:85.5px;top:559.5px;font-size:12.3px;">严重湿</div>
<div class="t b" style="left:85.5px;top:576.6px;font-size:12.3px;">特别湿</div>
<div class="t b" style="left:48.5px;top:592.8px;font-size:10px;">空白处无资料</div>
<div class="t " style="left:176.6px;top:568.0px;font-size:16px;font-weight:900">中国气象局</div>
<div class="t " style="left:176.6px;top:587.2px;font-size:16px;font-weight:900">国家气候中心</div>
<div class="t b" style="left:742.6px;top:592.0px;font-size:10.2px;">南海诸岛</div>
<div class="t b" style="left:217.5px;top:158.5px;font-size:8.3px;-webkit-text-stroke:0.45px #000">乌鲁木齐</div>
<div class="t b" style="left:652.5px;top:116.0px;font-size:8.3px;-webkit-text-stroke:0.45px #000">哈尔滨</div>
<div class="t b" style="left:642.0px;top:149.8px;font-size:8.3px;-webkit-text-stroke:0.45px #000">长春</div>
<div class="t b" style="left:628.3px;top:187.5px;font-size:8.3px;-webkit-text-stroke:0.45px #000">沈阳</div>
<div class="t b" style="left:492.4px;top:219.0px;font-size:8.3px;-webkit-text-stroke:0.45px #000">呼和浩特</div>
<div class="t b" style="left:549.8px;top:229.0px;font-size:8.3px;-webkit-text-stroke:0.45px #000">北京</div>
<div class="t b" style="left:561.9px;top:239.0px;font-size:8.3px;-webkit-text-stroke:0.45px #000">天津</div>
<div class="t b" style="left:529.6px;top:260.3px;font-size:8.3px;-webkit-text-stroke:0.45px #000">石家庄</div>
<div class="t b" style="left:506.9px;top:266.8px;font-size:8.3px;-webkit-text-stroke:0.45px #000">太原</div>
<div class="t b" style="left:577.8px;top:289.8px;font-size:8.3px;-webkit-text-stroke:0.45px #000">济南</div>
<div class="t b" style="left:537.9px;top:325.2px;font-size:8.3px;-webkit-text-stroke:0.45px #000">郑州</div>
<div class="t b" style="left:441.4px;top:271.5px;font-size:8.3px;-webkit-text-stroke:0.45px #000">银川</div>
<div class="t b" style="left:399.1px;top:298.8px;font-size:8.3px;-webkit-text-stroke:0.45px #000">兰州</div>
<div class="t b" style="left:372.3px;top:288.6px;font-size:8.3px;-webkit-text-stroke:0.45px #000">西宁</div>
<div class="t b" style="left:463.4px;top:325.2px;font-size:8.3px;-webkit-text-stroke:0.45px #000">西安</div>
<div class="t b" style="left:575.2px;top:354.0px;font-size:8.3px;-webkit-text-stroke:0.45px #000">合肥</div>
<div class="t b" style="left:535.6px;top:378.0px;font-size:8.3px;-webkit-text-stroke:0.45px #000">武汉</div>
<div class="t b" style="left:399.5px;top:382.8px;font-size:8.3px;-webkit-text-stroke:0.45px #000">成都</div>
<div class="t b" style="left:430.3px;top:400.0px;font-size:8.3px;-webkit-text-stroke:0.45px #000">重庆</div>
<div class="t b" style="left:436.1px;top:447.9px;font-size:8.3px;-webkit-text-stroke:0.45px #000">贵阳</div>
<div class="t b" style="left:378.2px;top:472.0px;font-size:8.3px;-webkit-text-stroke:0.45px #000">昆明</div>
<div class="t b" style="left:524.2px;top:416.6px;font-size:8.3px;-webkit-text-stroke:0.45px #000">长沙</div>
<div class="t b" style="left:563.2px;top:407.2px;font-size:8.3px;-webkit-text-stroke:0.45px #000">南昌</div>
<div class="t b" style="left:595.8px;top:347.8px;font-size:8.3px;-webkit-text-stroke:0.45px #000">南京</div>
<div class="t b" style="left:649.5px;top:365.5px;font-size:8.3px;-webkit-text-stroke:0.45px #000">上海</div>
<div class="t b" style="left:633.5px;top:383.0px;font-size:8.3px;-webkit-text-stroke:0.45px #000">杭州</div>
<div class="t b" style="left:615.4px;top:441.2px;font-size:8.3px;-webkit-text-stroke:0.45px #000">福州</div>
<div class="t b" style="left:649.5px;top:452.6px;font-size:8.3px;-webkit-text-stroke:0.45px #000">台北</div>
<div class="t b" style="left:221.8px;top:384.8px;font-size:8.3px;-webkit-text-stroke:0.45px #000">拉萨</div>
<div class="t b" style="left:461.5px;top:507.0px;font-size:8.3px;-webkit-text-stroke:0.45px #000">南宁</div>
<div class="t b" style="left:532.0px;top:499.8px;font-size:8.3px;-webkit-text-stroke:0.45px #000">广州</div>
<div class="t b" style="left:564.8px;top:521.3px;font-size:8.3px;-webkit-text-stroke:0.45px #000">香港</div>
<div class="t b" style="left:528.2px;top:526.3px;font-size:8.3px;-webkit-text-stroke:0.45px #000">澳门</div>
<div class="t b" style="left:511.0px;top:563.0px;font-size:8.3px;-webkit-text-stroke:0.45px #000">海口</div>
</body></html>
